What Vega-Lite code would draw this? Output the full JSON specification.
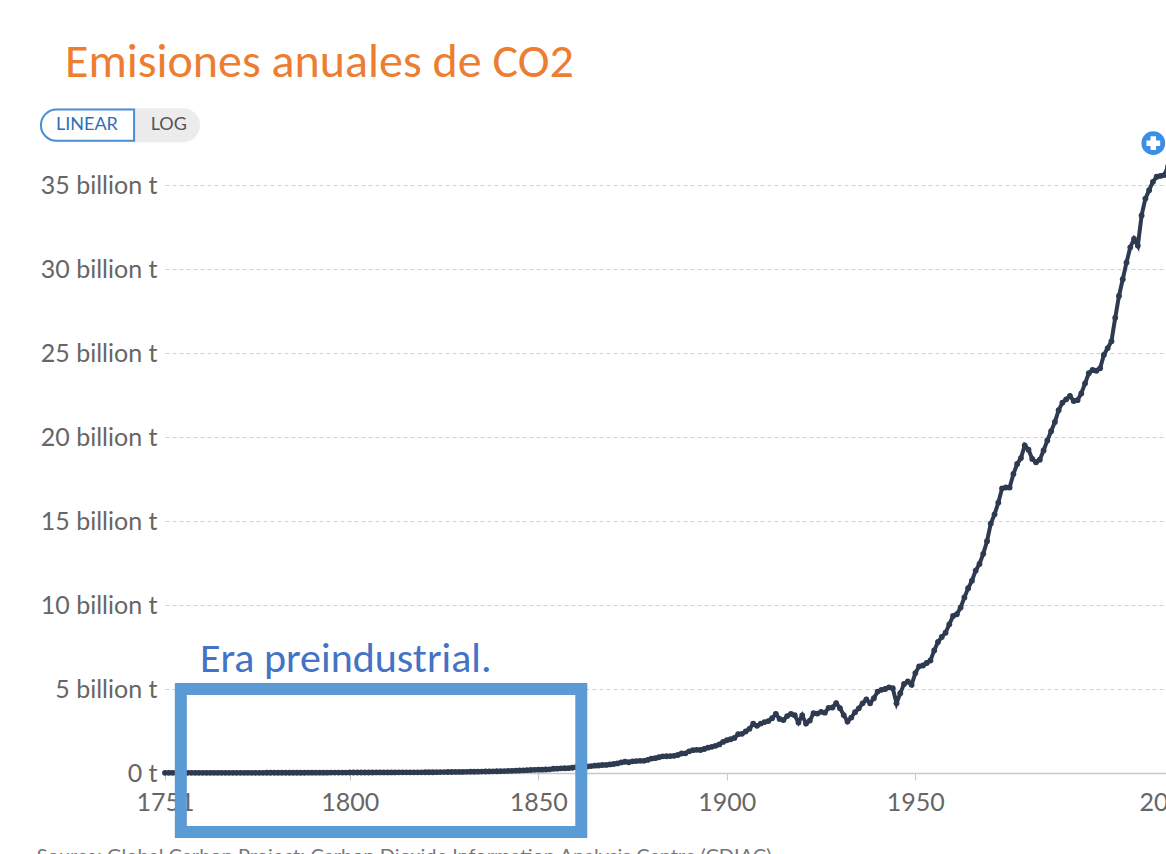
{
  "$schema": "https://vega.github.io/schema/vega-lite/v6.json",
  "width": 1003,
  "height": 608,
  "autosize": {"type": "none"},
  "padding": {"left": 165, "top": 165, "right": 0, "bottom": 81},
  "background": "white",
  "config": {"view": {"stroke": null}, "font": "Lato"},
  "datasets": {
    "one": [{}],
    "co2": [
      {"year":1751,"co2":0.0094},{"year":1752,"co2":0.0094},{"year":1753,"co2":0.0094},{"year":1754,"co2":0.0094},{"year":1755,"co2":0.0094},{"year":1756,"co2":0.0094},{"year":1757,"co2":0.0094},{"year":1758,"co2":0.0094},{"year":1759,"co2":0.0094},
      {"year":1760,"co2":0.0095},{"year":1761,"co2":0.0096},{"year":1762,"co2":0.0097},{"year":1763,"co2":0.0098},{"year":1764,"co2":0.0099},{"year":1765,"co2":0.0101},{"year":1766,"co2":0.0102},{"year":1767,"co2":0.0104},{"year":1768,"co2":0.0105},{"year":1769,"co2":0.0107},
      {"year":1770,"co2":0.0109},{"year":1771,"co2":0.0111},{"year":1772,"co2":0.0113},{"year":1773,"co2":0.0115},{"year":1774,"co2":0.0117},{"year":1775,"co2":0.0119},{"year":1776,"co2":0.0121},{"year":1777,"co2":0.0124},{"year":1778,"co2":0.0126},{"year":1779,"co2":0.0129},
      {"year":1780,"co2":0.0132},{"year":1781,"co2":0.0135},{"year":1782,"co2":0.0139},{"year":1783,"co2":0.0143},{"year":1784,"co2":0.0147},{"year":1785,"co2":0.0152},{"year":1786,"co2":0.0157},{"year":1787,"co2":0.0163},{"year":1788,"co2":0.0169},{"year":1789,"co2":0.0176},
      {"year":1790,"co2":0.0183},{"year":1791,"co2":0.0191},{"year":1792,"co2":0.0199},{"year":1793,"co2":0.0208},{"year":1794,"co2":0.0217},{"year":1795,"co2":0.0227},{"year":1796,"co2":0.0238},{"year":1797,"co2":0.0249},{"year":1798,"co2":0.0261},{"year":1799,"co2":0.0273},
      {"year":1800,"co2":0.0282},{"year":1801,"co2":0.0286},{"year":1802,"co2":0.0292},{"year":1803,"co2":0.0298},{"year":1804,"co2":0.0305},{"year":1805,"co2":0.0312},{"year":1806,"co2":0.0319},{"year":1807,"co2":0.0327},{"year":1808,"co2":0.0335},{"year":1809,"co2":0.0345},
      {"year":1810,"co2":0.0357},{"year":1811,"co2":0.0364},{"year":1812,"co2":0.0371},{"year":1813,"co2":0.0378},{"year":1814,"co2":0.0386},{"year":1815,"co2":0.0394},{"year":1816,"co2":0.0402},{"year":1817,"co2":0.041},{"year":1818,"co2":0.0418},{"year":1819,"co2":0.0422},
      {"year":1820,"co2":0.0426},{"year":1821,"co2":0.0441},{"year":1822,"co2":0.0465},{"year":1823,"co2":0.0492},{"year":1824,"co2":0.0521},{"year":1825,"co2":0.0552},{"year":1826,"co2":0.0576},{"year":1827,"co2":0.0598},{"year":1828,"co2":0.0621},{"year":1829,"co2":0.0644},
      {"year":1830,"co2":0.0667},{"year":1831,"co2":0.0694},{"year":1832,"co2":0.0723},{"year":1833,"co2":0.0756},{"year":1834,"co2":0.0789},{"year":1835,"co2":0.0822},{"year":1836,"co2":0.0871},{"year":1837,"co2":0.0925},{"year":1838,"co2":0.0982},{"year":1839,"co2":0.1041},
      {"year":1840,"co2":0.1092},{"year":1841,"co2":0.1158},{"year":1842,"co2":0.1224},{"year":1843,"co2":0.1297},{"year":1844,"co2":0.1382},{"year":1845,"co2":0.1476},{"year":1846,"co2":0.1572},{"year":1847,"co2":0.1665},{"year":1848,"co2":0.1768},{"year":1849,"co2":0.1869},
      {"year":1850,"co2":0.197},{"year":1851,"co2":0.198},{"year":1852,"co2":0.207},{"year":1853,"co2":0.217},{"year":1854,"co2":0.255},{"year":1855,"co2":0.259},{"year":1856,"co2":0.276},{"year":1857,"co2":0.281},{"year":1858,"co2":0.287},{"year":1859,"co2":0.314},
      {"year":1860,"co2":0.34},{"year":1861,"co2":0.363},{"year":1862,"co2":0.366},{"year":1863,"co2":0.386},{"year":1864,"co2":0.412},{"year":1865,"co2":0.437},{"year":1866,"co2":0.447},{"year":1867,"co2":0.478},{"year":1868,"co2":0.483},{"year":1869,"co2":0.511},
      {"year":1870,"co2":0.536},{"year":1871,"co2":0.57},{"year":1872,"co2":0.632},{"year":1873,"co2":0.672},{"year":1874,"co2":0.64},{"year":1875,"co2":0.69},{"year":1876,"co2":0.707},{"year":1877,"co2":0.721},{"year":1878,"co2":0.726},{"year":1879,"co2":0.778},
      {"year":1880,"co2":0.856},{"year":1881,"co2":0.885},{"year":1882,"co2":0.938},{"year":1883,"co2":0.993},{"year":1884,"co2":0.996},{"year":1885,"co2":1.007},{"year":1886,"co2":1.02},{"year":1887,"co2":1.07},{"year":1888,"co2":1.161},{"year":1889,"co2":1.17},
      {"year":1890,"co2":1.29},{"year":1891,"co2":1.36},{"year":1892,"co2":1.38},{"year":1893,"co2":1.37},{"year":1894,"co2":1.43},{"year":1895,"co2":1.51},{"year":1896,"co2":1.56},{"year":1897,"co2":1.62},{"year":1898,"co2":1.7},{"year":1899,"co2":1.85},
      {"year":1900,"co2":1.95},{"year":1901,"co2":2.01},{"year":1902,"co2":2.09},{"year":1903,"co2":2.31},{"year":1904,"co2":2.33},{"year":1905,"co2":2.47},{"year":1906,"co2":2.63},{"year":1907,"co2":2.93},{"year":1908,"co2":2.81},{"year":1909,"co2":2.94},
      {"year":1910,"co2":3.03},{"year":1911,"co2":3.09},{"year":1912,"co2":3.26},{"year":1913,"co2":3.52},{"year":1914,"co2":3.22},{"year":1915,"co2":3.15},{"year":1916,"co2":3.39},{"year":1917,"co2":3.52},{"year":1918,"co2":3.44},{"year":1919,"co2":3.01},
      {"year":1920,"co2":3.43},{"year":1921,"co2":2.94},{"year":1922,"co2":3.12},{"year":1923,"co2":3.56},{"year":1924,"co2":3.54},{"year":1925,"co2":3.64},{"year":1926,"co2":3.59},{"year":1927,"co2":3.88},{"year":1928,"co2":3.9},{"year":1929,"co2":4.16},
      {"year":1930,"co2":3.86},{"year":1931,"co2":3.45},{"year":1932,"co2":3.06},{"year":1933,"co2":3.3},{"year":1934,"co2":3.62},{"year":1935,"co2":3.85},{"year":1936,"co2":4.15},{"year":1937,"co2":4.38},{"year":1938,"co2":4.15},{"year":1939,"co2":4.45},
      {"year":1940,"co2":4.85},{"year":1941,"co2":4.95},{"year":1942,"co2":5.0},{"year":1943,"co2":5.1},{"year":1944,"co2":5.05},{"year":1945,"co2":4.15},{"year":1946,"co2":4.75},{"year":1947,"co2":5.3},{"year":1948,"co2":5.45},{"year":1949,"co2":5.25},
      {"year":1950,"co2":5.95},{"year":1951,"co2":6.35},{"year":1952,"co2":6.4},{"year":1953,"co2":6.55},{"year":1954,"co2":6.7},{"year":1955,"co2":7.3},{"year":1956,"co2":7.8},{"year":1957,"co2":8.1},{"year":1958,"co2":8.35},{"year":1959,"co2":8.85},
      {"year":1960,"co2":9.35},{"year":1961,"co2":9.45},{"year":1962,"co2":9.85},{"year":1963,"co2":10.45},{"year":1964,"co2":11.0},{"year":1965,"co2":11.45},{"year":1966,"co2":12.05},{"year":1967,"co2":12.45},{"year":1968,"co2":13.05},{"year":1969,"co2":13.8},
      {"year":1970,"co2":14.85},{"year":1971,"co2":15.4},{"year":1972,"co2":16.1},{"year":1973,"co2":16.95},{"year":1974,"co2":17.0},{"year":1975,"co2":17.0},{"year":1976,"co2":17.8},{"year":1977,"co2":18.4},{"year":1978,"co2":18.75},{"year":1979,"co2":19.5},
      {"year":1980,"co2":19.25},{"year":1981,"co2":18.7},{"year":1982,"co2":18.5},{"year":1983,"co2":18.65},{"year":1984,"co2":19.2},{"year":1985,"co2":19.8},{"year":1986,"co2":20.35},{"year":1987,"co2":20.9},{"year":1988,"co2":21.6},{"year":1989,"co2":22.05},
      {"year":1990,"co2":22.25},{"year":1991,"co2":22.45},{"year":1992,"co2":22.15},{"year":1993,"co2":22.2},{"year":1994,"co2":22.6},{"year":1995,"co2":23.2},{"year":1996,"co2":23.8},{"year":1997,"co2":24.0},{"year":1998,"co2":23.95},{"year":1999,"co2":24.1},
      {"year":2000,"co2":24.9},{"year":2001,"co2":25.3},{"year":2002,"co2":25.7},{"year":2003,"co2":27.1},{"year":2004,"co2":28.4},{"year":2005,"co2":29.4},{"year":2006,"co2":30.4},{"year":2007,"co2":31.3},{"year":2008,"co2":31.8},{"year":2009,"co2":31.4},
      {"year":2010,"co2":33.2},{"year":2011,"co2":34.2},{"year":2012,"co2":34.7},{"year":2013,"co2":35.2},{"year":2014,"co2":35.5},{"year":2015,"co2":35.55},{"year":2016,"co2":35.6},{"year":2017,"co2":36.1}
    ]
  },
  "layer": [
    {
      "data": {"name": "co2"},
      "mark": {"type": "line", "color": "#2e3a4f", "strokeWidth": 4, "clip": false,
               "point": {"filled": true, "size": 34, "color": "#2e3a4f"}},
      "encoding": {
        "x": {"field": "year", "type": "quantitative",
              "scale": {"domain": [1751, 2017], "nice": false, "zero": false},
              "axis": {"title": null, "values": [1751, 1800, 1850, 1900, 1950, 2017], "format": "d",
                       "grid": false, "domainColor": "#c8c8c8", "domainWidth": 1.5,
                       "tickColor": "#c8c8c8", "tickSize": 7, "labelPadding": 10,
                       "labelFont": "Lato", "labelFontSize": 25, "labelColor": "#666666",
                       "labelOverlap": false, "labelFlush": false}},
        "y": {"field": "co2", "type": "quantitative",
              "scale": {"domain": [0, 36.2], "nice": false},
              "axis": {"title": null, "values": [0, 5, 10, 15, 20, 25, 30, 35],
                       "labelExpr": "datum.value == 0 ? '0 t' : datum.value + ' billion t'",
                       "domain": false, "ticks": false, "labelPadding": 8,
                       "grid": true, "gridColor": "#d0d0d0", "gridDash": [4, 3], "gridWidth": 1,
                       "labelFont": "Lato", "labelFontSize": 25, "labelColor": "#666666"}}
      }
    },
    {
      "data": {"name": "one"},
      "mark": {"type": "text", "text": "Emisiones anuales de CO2", "font": "Carlito, Lato, sans-serif", "fontSize": 48,
               "color": "#ED7D31", "align": "left", "baseline": "alphabetic", "clip": false},
      "encoding": {
        "x": {"datum": 1724.47, "type": "quantitative", "title": null},
        "y": {"datum": 41.43, "type": "quantitative", "title": null}
      }
    },
    {
      "data": {"name": "one"},
      "mark": {"type": "rect", "fill": "#ececec", "cornerRadius": 17, "clip": false},
      "encoding": {
        "x": {"datum": 1717.8, "type": "quantitative", "title": null}, "x2": {"datum": 1760.3},
        "y": {"datum": 39.58, "type": "quantitative", "title": null}, "y2": {"datum": 37.56}
      }
    },
    {
      "data": {"name": "one"},
      "mark": {"type": "rect", "fill": "white", "stroke": "#4a8fd6", "strokeWidth": 2,
               "cornerRadiusTopLeft": 17, "cornerRadiusBottomLeft": 17, "clip": false},
      "encoding": {
        "x": {"datum": 1718.1, "type": "quantitative", "title": null}, "x2": {"datum": 1742.8},
        "y": {"datum": 39.5, "type": "quantitative", "title": null}, "y2": {"datum": 37.64}
      }
    },
    {
      "data": {"name": "one"},
      "mark": {"type": "text", "text": "LINEAR", "font": "Lato", "fontSize": 18, "color": "#2f6fb5",
               "align": "center", "baseline": "middle", "clip": false},
      "encoding": {
        "x": {"datum": 1730.3, "type": "quantitative", "title": null},
        "y": {"datum": 38.57, "type": "quantitative", "title": null}
      }
    },
    {
      "data": {"name": "one"},
      "mark": {"type": "text", "text": "LOG", "font": "Lato", "fontSize": 18, "color": "#555555",
               "align": "center", "baseline": "middle", "clip": false},
      "encoding": {
        "x": {"datum": 1752.0, "type": "quantitative", "title": null},
        "y": {"datum": 38.57, "type": "quantitative", "title": null}
      }
    },
    {
      "data": {"name": "one"},
      "mark": {"type": "point", "shape": "circle", "filled": true, "size": 560, "color": "#3b8ee6", "opacity": 1, "clip": false},
      "encoding": {
        "x": {"datum": 2013.1, "type": "quantitative", "title": null},
        "y": {"datum": 37.5, "type": "quantitative", "title": null}
      }
    },
    {
      "data": {"name": "one"},
      "mark": {"type": "point", "shape": "cross", "filled": true, "size": 190, "color": "white", "opacity": 1, "clip": false},
      "encoding": {
        "x": {"datum": 2013.1, "type": "quantitative", "title": null},
        "y": {"datum": 37.5, "type": "quantitative", "title": null}
      }
    },
    {
      "data": {"name": "one"},
      "mark": {"type": "rect", "fill": null, "filled": false, "stroke": "#5B9BD5", "strokeWidth": 12, "clip": false},
      "encoding": {
        "x": {"datum": 1755.2, "type": "quantitative", "title": null}, "x2": {"datum": 1861.4},
        "y": {"datum": 5.0, "type": "quantitative", "title": null}, "y2": {"datum": -3.51}
      }
    },
    {
      "data": {"name": "one"},
      "mark": {"type": "text", "text": "Era preindustrial.", "font": "Carlito, Lato, sans-serif", "fontSize": 42,
               "color": "#4472C4", "align": "left", "baseline": "alphabetic", "clip": false},
      "encoding": {
        "x": {"datum": 1760.3, "type": "quantitative", "title": null},
        "y": {"datum": 6.0, "type": "quantitative", "title": null}
      }
    },
    {
      "data": {"name": "one"},
      "mark": {"type": "text", "text": "Source: Global Carbon Project; Carbon Dioxide Information Analysis Centre (CDIAC)",
               "font": "Lato", "fontSize": 20, "color": "#777777", "align": "left", "baseline": "alphabetic", "clip": false},
      "encoding": {
        "x": {"datum": 1717.0, "type": "quantitative", "title": null},
        "y": {"datum": -5.35, "type": "quantitative", "title": null}
      }
    }
  ]
}
